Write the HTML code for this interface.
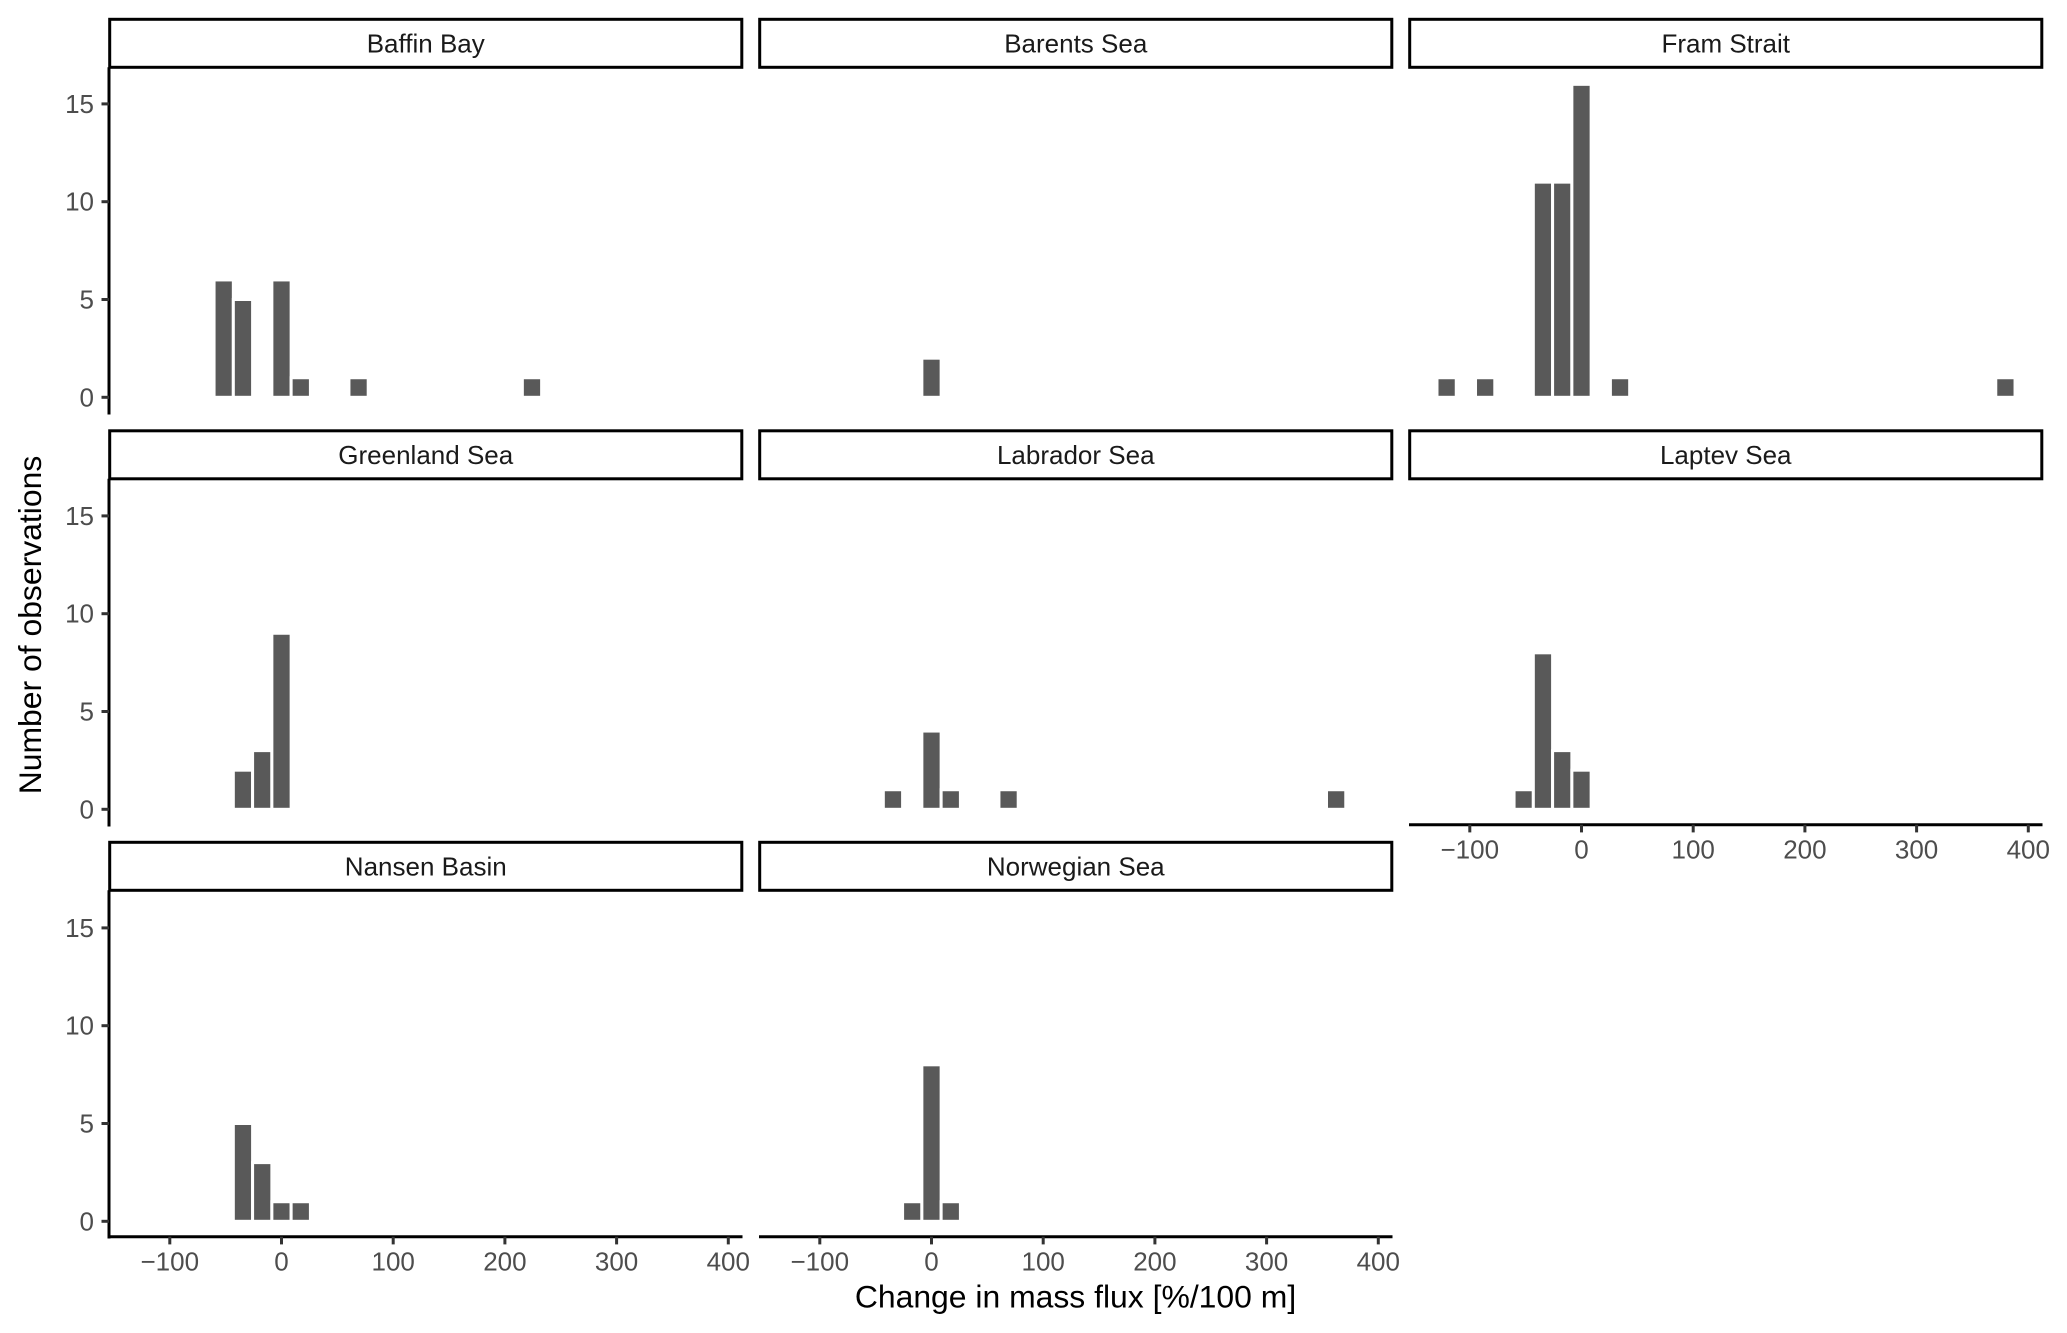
<!DOCTYPE html>
<html lang="en">
<head>
<meta charset="utf-8">
<title>Change in mass flux by region</title>
<style>
html,body{margin:0;padding:0;background:#fff;}
svg{display:block;}
text{font-family:"Liberation Sans",Arial,sans-serif;}
</style>
</head>
<body>
<svg id="chart" xmlns="http://www.w3.org/2000/svg" width="2067" height="1333" viewBox="0 0 2067 1333">
<rect x="0" y="0" width="2067" height="1333" fill="#ffffff"/>
<text x="1075.5" y="1307.5" font-size="31.9" text-anchor="middle" fill="#000">Change in mass flux [%/100 m]</text>
<text transform="translate(41,625) rotate(-90)" x="0" y="0" font-size="31.9" text-anchor="middle" fill="#000">Number of observations</text>
</svg>
<script>
const panelNames = ["Baffin Bay","Barents Sea","Fram Strait","Greenland Sea","Labrador Sea","Laptev Sea","Nansen Basin","Norwegian Sea"];
const binWidth = 17.25;
const xTickValues = [-100,0,100,200,300,400];
const xTickLabels = ["\u2212100","0","100","200","300","400"];
const yTickValues = [0,5,10,15];
const yTickLabels = ["0","5","10","15"];

const baffinBins = [-51.75,-34.5,0,17.25,69,224.25];
const baffinCounts = [6,5,6,1,1,1];
const barentsBins = [0];
const barentsCounts = [2];
const framBins = [-120.75,-86.25,-34.5,-17.25,0,34.5,379.5];
const framCounts = [1,1,11,11,16,1,1];
const greenlandBins = [-34.5,-17.25,0];
const greenlandCounts = [2,3,9];
const labradorBins = [-34.5,0,17.25,69,362.25];
const labradorCounts = [1,4,1,1,1];
const laptevBins = [-51.75,-34.5,-17.25,0];
const laptevCounts = [1,8,3,2];
const nansenBins = [-34.5,-17.25,0,17.25];
const nansenCounts = [5,3,1,1];
const norwegianBins = [-17.25,0,17.25];
const norwegianCounts = [1,8,1];

const allBins = [baffinBins,barentsBins,framBins,greenlandBins,labradorBins,laptevBins,nansenBins,norwegianBins];
const allCounts = [baffinCounts,barentsCounts,framCounts,greenlandCounts,labradorCounts,laptevCounts,nansenCounts,norwegianCounts];

const svg = document.getElementById('chart');
const NS = 'http://www.w3.org/2000/svg';
const LINE = 3;
const PANEL_W = 633.5;

function colLeft(c){ return 109 + c * 650; }
function rowZero(r){ return 397.3 + r * 412; }
function rowStripTop(r){ return 19.3 + r * 411.5; }
function rowAxisY(r){ return 413 + r * 412; }
function xScale(c, v){ return colLeft(c) + 172.5 + v * 1.117; }
function yScale(r, n){ return rowZero(r) - n * 19.56; }

function make(tag, props, parent){
  const el = document.createElementNS(NS, tag);
  for (const k in props) el.setAttribute(k, props[k]);
  (parent || svg).appendChild(el);
  return el;
}

panelNames.forEach(function(name, i){
  const c = i % 3;
  const r = Math.floor(i / 3);
  const slug = name.toLowerCase().replace(/\s+/g, '-');
  const g = make('g', {});
  
  

  // strip
  const stripTop = rowStripTop(r);
  const strip = make('rect', {x: colLeft(c) + 0.7, y: stripTop, width: PANEL_W - 1.4, height: 48, fill: '#fff', stroke: '#000', 'stroke-width': LINE}, g);
  
  
  const label = make('text', {x: colLeft(c) + PANEL_W / 2, y: stripTop + 33, 'font-size': 26, 'text-anchor': 'middle', fill: '#1a1a1a'}, g);
  
  
  label.textContent = name;

  // bars
  const bins = allBins[i];
  const counts = allCounts[i];
  bins.forEach(function(b, j){
    const x0 = xScale(c, b - binWidth / 2);
    const x1 = xScale(c, b + binWidth / 2);
    const yTop = yScale(r, counts[j]);
    const bar = make('rect', {x: x0, y: yTop, width: x1 - x0, height: rowZero(r) - yTop, fill: '#595959', stroke: '#ffffff', 'stroke-width': 3}, g);
    
    
  });

  // y axis on the first column
  if (c === 0) {
    const yAxis = make('line', {x1: colLeft(c), x2: colLeft(c), y1: stripTop + 48, y2: rowAxisY(r) + LINE / 2, stroke: '#000', 'stroke-width': LINE}, g);
    
    
    yTickValues.forEach(function(v, k){
      const y = yScale(r, v);
      const tick = make('line', {x1: colLeft(c) - 7.5, x2: colLeft(c), y1: y, y2: y, stroke: '#333', 'stroke-width': LINE}, g);
      
      
      const t = make('text', {x: colLeft(c) - 15, y: y + 9, 'font-size': 26, 'text-anchor': 'end', fill: '#4d4d4d'}, g);
      
      
      t.textContent = yTickLabels[k];
    });
  }

  // x axis on the lowest panel in each column
  const hasXAxis = r === 2 || (r === 1 && c === 2);
  if (hasXAxis) {
    const axisY = rowAxisY(r) - 0.3;
    const xAxis = make('line', {x1: colLeft(c) - (c === 0 ? LINE / 2 : 0), x2: colLeft(c) + PANEL_W, y1: axisY, y2: axisY, stroke: '#000', 'stroke-width': LINE}, g);
    
    
    xTickValues.forEach(function(v, k){
      const x = xScale(c, v);
      const tick = make('line', {x1: x, x2: x, y1: axisY, y2: axisY + 7.7, stroke: '#333', 'stroke-width': LINE}, g);
      
      
      const t = make('text', {x: x, y: axisY + 33.7, 'font-size': 26, 'text-anchor': 'middle', fill: '#4d4d4d'}, g);
      
      
      t.textContent = xTickLabels[k];
    });
  }
});
</script>
</body>
</html>
